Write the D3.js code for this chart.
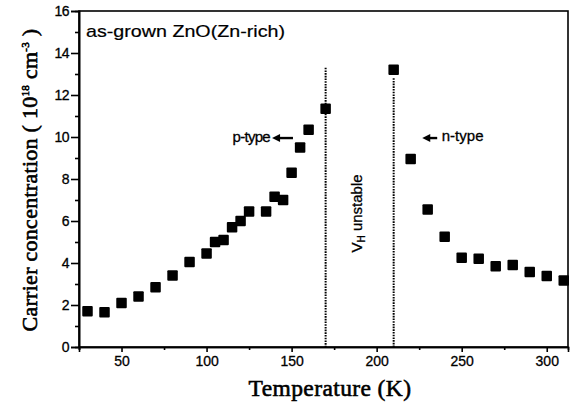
<!DOCTYPE html>
<html>
<head>
<meta charset="utf-8">
<script src="https://cdn.jsdelivr.net/npm/d3@7"></script>
<style>
  body { margin: 0; background: #fff; }
  text { fill: #000; }
</style>
</head>
<body>
<svg id="chart"></svg>
<script>
// readings
const temps  = [30, 40, 50, 60, 70, 80, 90, 100, 105, 110, 115, 120, 125, 135, 140, 145, 150, 155, 160, 170,
                210, 220, 230, 240, 250, 260, 270, 280, 290, 300, 310];
const carrier = [1.7, 1.65, 2.1, 2.4, 2.85, 3.4, 4.05, 4.45, 5.0, 5.1, 5.7, 6.0, 6.45, 6.45, 7.15, 7.0, 8.3, 9.5, 10.35, 11.35,
                 13.2, 8.95, 6.55, 5.25, 4.25, 4.2, 3.85, 3.9, 3.57, 3.38, 3.17];
const boundaryT = [170, 210];
const boundaryTop = [13.3, 12.8];
const xTicks = [50, 100, 150, 200, 250, 300];
const xMinor = [25, 75, 125, 175, 225, 275];
const yTicks = [0, 2, 4, 6, 8, 10, 12, 14, 16];
const yMinor = [1, 3, 5, 7, 9, 11, 13, 15];

const W = 575, H = 407;
const margin = {top: 11, right: 7, bottom: 60, left: 79};

const sans = "Liberation Sans, Arial, sans-serif";
const serif = "Liberation Serif, Times New Roman, serif";

const svg = d3.select("#chart")
  .attr("width", W)
  .attr("height", H);

const x = d3.scaleLinear()
  .domain([25, 312.5])
  .range([margin.left, W - margin.right]);

const y = d3.scaleLinear()
  .domain([0, 16])
  .range([H - margin.bottom, margin.top]);

// fit a text node to a measured width from the picture
const fitWidth = (sel, target) => {
  const fs = +sel.attr("font-size");
  const len = sel.node().getComputedTextLength();
  sel.attr("font-size", fs * target / len);
};

// frame
svg.append("rect")
  .attr("x", x(25)).attr("y", y(16))
  .attr("width", x(312.5) - x(25))
  .attr("height", y(0) - y(16))
  .attr("fill", "none")
  .attr("stroke", "#000")
  .attr("stroke-width", 1.6);

// x axis
const xAxis = svg.append("g")
  .attr("transform", `translate(0,${y(0)})`)
  .call(d3.axisBottom(x).tickValues(xTicks).tickSize(5).tickPadding(4).tickFormat(d3.format("d")));
svg.append("g")
  .attr("transform", `translate(0,${y(0)})`)
  .call(d3.axisBottom(x).tickValues(xMinor).tickSize(3).tickFormat(""));

// y axis
const yAxis = svg.append("g")
  .attr("transform", `translate(${x(25)},0)`)
  .call(d3.axisLeft(y).tickValues(yTicks).tickSize(8).tickPadding(2));
svg.append("g")
  .attr("transform", `translate(${x(25)},0)`)
  .call(d3.axisLeft(y).tickValues(yMinor).tickSize(4).tickFormat(""));

svg.selectAll(".domain").attr("stroke-width", 1.6);
svg.selectAll(".tick line").attr("stroke-width", 1.6);
svg.selectAll(".tick text")
  .attr("font-family", sans)
  .attr("font-size", 14)
  .attr("stroke", "#000")
  .attr("stroke-width", 0.3);
yAxis.selectAll(".tick text").attr("letter-spacing", -0.5);

// dotted boundaries
svg.selectAll(".bound")
  .data(boundaryT)
  .enter()
  .append("line")
  .attr("class", "bound")
  .attr("x1", d => x(d)).attr("x2", d => x(d))
  .attr("y1", (d, i) => y(boundaryTop[i]))
  .attr("y2", y(0))
  .attr("stroke", "#000")
  .attr("stroke-width", 2)
  .attr("stroke-dasharray", "1.6,1.1");

// data squares
const s = 10.5;
svg.selectAll(".pt")
  .data(temps)
  .enter()
  .append("rect")
  .attr("class", "pt")
  .attr("x", d => x(d) - s / 2)
  .attr("y", (d, i) => y(carrier[i]) - s / 2)
  .attr("width", s)
  .attr("height", s)
  .attr("rx", 1)
  .attr("fill", "#000");

// labels
const title = svg.append("text")
  .attr("x", 86).attr("y", 37)
  .attr("font-family", sans).attr("font-size", 17)
  .attr("stroke", "#000").attr("stroke-width", 0.2)
  .text("as-grown ZnO(Zn-rich)");
title.attr("textLength", 199).attr("lengthAdjust", "spacingAndGlyphs");

svg.append("text")
  .attr("x", x(137.3)).attr("y", y(9.75))
  .attr("text-anchor", "end")
  .attr("font-family", sans).attr("font-size", 15)
  .attr("letter-spacing", -0.7)
  .attr("stroke", "#000").attr("stroke-width", 0.3)
  .text("p-type");

svg.append("text")
  .attr("x", x(238.3)).attr("y", y(9.8))
  .attr("font-family", sans).attr("font-size", 15)
  .attr("stroke", "#000").attr("stroke-width", 0.3)
  .text("n-type");

// little arrows pointing left
const arrows = [[138.5, 150.8, 9.95], [226.8, 235.6, 9.95]];
arrows.forEach(a => {
  svg.append("line")
    .attr("x1", x(a[0]) + 4).attr("x2", x(a[1]))
    .attr("y1", y(a[2])).attr("y2", y(a[2]))
    .attr("stroke", "#000").attr("stroke-width", 2.4);
  svg.append("path")
    .attr("d", `M${x(a[0])},${y(a[2])} l8,-4 l0,8 z`)
    .attr("fill", "#000");
});

const vh = svg.append("text")
  .attr("transform", `translate(${x(190) + 2},${y(4.5)}) rotate(-90)`)
  .attr("font-family", sans).attr("font-size", 15)
  .attr("stroke", "#000").attr("stroke-width", 0.3);
vh.append("tspan").text("V");
vh.append("tspan").attr("font-size", 10).attr("dy", 3).text("H");
vh.append("tspan").attr("dy", -3).text(" unstable");

const xt = svg.append("text")
  .attr("x", 330).attr("y", 396)
  .attr("text-anchor", "middle")
  .attr("font-family", serif).attr("font-size", 20)
  .attr("stroke", "#000").attr("stroke-width", 0.6)
  .attr("letter-spacing", 0.4)
  .text("Temperature (K)");
fitWidth(xt, 164);

const yt = svg.append("text")
  .attr("transform", `translate(37,${(27 + 333) / 2}) rotate(-90)`)
  .attr("text-anchor", "middle")
  .attr("font-family", serif).attr("font-size", 20)
  .attr("stroke", "#000").attr("stroke-width", 0.6)
  .attr("letter-spacing", 0.3);
yt.append("tspan").text("Carrier concentration ( 10");
yt.append("tspan").attr("font-size", 11).attr("dy", -8).text("18");
yt.append("tspan").attr("dy", 8).text(" cm");
yt.append("tspan").attr("font-size", 11).attr("dy", -8).text("-3");
yt.append("tspan").attr("dy", 8).text(" )");
fitWidth(yt, 306);
</script>
</body>
</html>
